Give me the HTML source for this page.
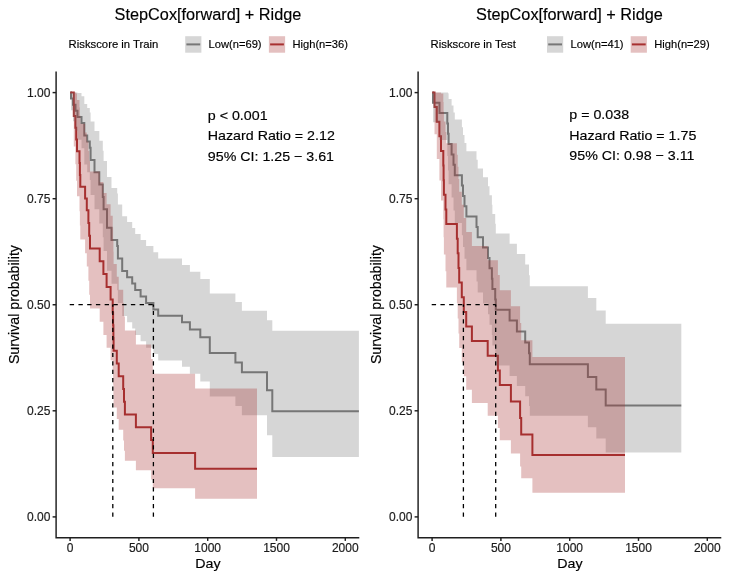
<!DOCTYPE html>
<html lang="en"><head><meta charset="utf-8"><title>StepCox[forward] + Ridge</title>
<style>html,body{margin:0;padding:0;background:#fff}svg{display:block}text{stroke:#000;stroke-width:.16px;paint-order:stroke fill}</style></head>
<body>
<svg width="740" height="581" viewBox="0 0 740 581" font-family='"Liberation Sans", Arial, sans-serif' fill="#000" stroke="none">
<rect width="740" height="581" fill="#fff"/>
<g transform="translate(0,0)">
<polyline points="70.3,92.4 71.0,92.4 71.0,98.5 73.0,98.5 73.0,104.7 75.5,104.7 75.5,110.8 77.5,110.8 77.5,117.0 81.5,117.0 81.5,123.1 84.3,123.1 84.3,135.4 87.2,135.4 87.2,141.6 89.8,141.6 89.8,147.7 90.6,147.7 90.6,160.0 94.5,160.0 94.5,172.3 99.3,172.3 99.3,184.6 102.8,184.6 102.8,196.9 103.6,196.9 103.6,209.2 107.0,209.2 107.0,227.7 111.5,227.7 111.5,240.0 117.2,240.0 117.2,246.1 117.9,246.1 117.9,258.4 122.2,258.4 122.2,271.0 127.1,271.0 127.1,277.3 132.2,277.3 132.2,283.6 135.2,283.6 135.2,289.9 140.6,289.9 140.6,296.4 146.1,296.4 146.1,302.9 153.4,302.9 153.4,309.4 158.2,309.4 158.2,315.8 182.0,315.8 182.0,322.3 189.9,322.3 189.9,329.5 200.3,329.5 200.3,337.3 209.8,337.3 209.8,352.9 235.4,352.9 235.4,362.6 241.9,362.6 241.9,372.2 267.0,372.2 267.0,390.3 272.3,390.3 272.3,411.3 358.9,411.3" fill="none" stroke="#767676" stroke-width="2" stroke-linejoin="miter"/>
<polyline points="70.3,92.4 73.8,92.4 73.8,116.0 75.4,116.0 75.4,127.8 76.2,127.8 76.2,139.5 77.0,139.5 77.0,151.3 79.5,151.3 79.5,163.1 79.9,163.1 79.9,174.9 80.3,174.9 80.3,186.7 85.1,186.7 85.1,198.5 86.8,198.5 86.8,210.3 88.4,210.3 88.4,223.0 89.2,223.0 89.2,235.8 90.0,235.8 90.0,248.6 99.7,248.6 99.7,261.3 103.4,261.3 103.4,274.1 106.6,274.1 106.6,286.9 110.6,286.9 110.6,299.6 112.7,299.6 112.7,312.4 113.1,312.4 113.1,325.2 113.4,325.2 113.4,337.9 113.6,337.9 113.6,350.7 116.8,350.7 116.8,363.5 118.7,363.5 118.7,376.2 123.2,376.2 123.2,389.0 124.0,389.0 124.0,401.8 124.9,401.8 124.9,414.6 135.9,414.6 135.9,427.3 151.1,427.3 151.1,440.1 152.8,440.1 152.8,452.9 195.1,452.9 195.1,468.8 257.0,468.8" fill="none" stroke="#A73030" stroke-width="2" stroke-linejoin="miter"/>
<polygon points="70.3,92.4 71.0,92.4 71.0,92.4 73.0,92.4 73.0,92.4 75.5,92.4 75.5,92.4 77.5,92.4 77.5,92.9 81.5,92.9 81.5,96.3 84.3,96.3 84.3,104.0 87.2,104.0 87.2,108.1 89.8,108.1 89.8,112.4 90.6,112.4 90.6,121.4 94.5,121.4 94.5,130.9 99.3,130.9 99.3,140.7 102.8,140.7 102.8,150.8 103.6,150.8 103.6,161.1 107.0,161.1 107.0,177.1 111.5,177.1 111.5,187.9 117.2,187.9 117.2,193.5 117.9,193.5 117.9,204.6 122.2,204.6 122.2,216.2 127.1,216.2 127.1,222.0 132.2,222.0 132.2,227.9 135.2,227.9 135.2,233.9 140.6,233.9 140.6,240.0 146.1,240.0 146.1,246.1 153.4,246.1 153.4,252.3 158.2,252.3 158.2,258.6 182.0,258.6 182.0,264.9 189.9,264.9 189.9,271.7 200.3,271.7 200.3,278.9 209.8,278.9 209.8,293.6 235.4,293.6 235.4,302.1 241.9,302.1 241.9,310.7 267.0,310.7 267.0,320.2 272.3,320.2 272.3,330.8 358.9,330.8 358.9,457.0 272.3,457.0 272.3,435.3 267.0,435.3 267.0,415.3 241.9,415.3 241.9,406.0 235.4,406.0 235.4,396.4 209.8,396.4 209.8,381.4 200.3,381.4 200.3,373.7 189.9,373.7 189.9,366.7 182.0,366.7 182.0,360.4 158.2,360.4 158.2,354.1 153.4,354.1 153.4,347.7 146.1,347.7 146.1,341.3 140.6,341.3 140.6,334.9 135.2,334.9 135.2,328.6 132.2,328.6 132.2,322.2 127.1,322.2 127.1,315.9 122.2,315.9 122.2,302.9 117.9,302.9 117.9,290.2 117.2,290.2 117.2,283.8 111.5,283.8 111.5,270.8 107.0,270.8 107.0,250.9 103.6,250.9 103.6,237.3 102.8,237.3 102.8,223.5 99.3,223.5 99.3,209.3 94.5,209.3 94.5,194.9 90.6,194.9 90.6,180.0 89.8,180.0 89.8,172.3 87.2,172.3 87.2,164.5 84.3,164.5 84.3,148.3 81.5,148.3 81.5,139.7 77.5,139.7 77.5,130.8 75.5,130.8 75.5,121.2 73.0,121.2 73.0,110.3 71.0,110.3 71.0,92.4 70.3,92.4" fill="#767676" fill-opacity="0.3"/>
<polygon points="70.3,92.4 73.8,92.4 73.8,92.4 75.4,92.4 75.4,92.4 76.2,92.4 76.2,93.4 77.0,93.4 77.0,100.1 79.5,100.1 79.5,107.5 79.9,107.5 79.9,115.4 80.3,115.4 80.3,123.7 85.1,123.7 85.1,132.4 86.8,132.4 86.8,141.4 88.4,141.4 88.4,151.1 89.2,151.1 89.2,161.1 90.0,161.1 90.0,171.4 99.7,171.4 99.7,182.1 103.4,182.1 103.4,193.0 106.6,193.0 106.6,204.2 110.6,204.2 110.6,215.7 112.7,215.7 112.7,227.4 113.1,227.4 113.1,239.4 113.4,239.4 113.4,251.6 113.6,251.6 113.6,264.0 116.8,264.0 116.8,276.8 118.7,276.8 118.7,289.8 123.2,289.8 123.2,303.0 124.0,303.0 124.0,316.6 124.9,316.6 124.9,330.4 135.9,330.4 135.9,344.5 151.1,344.5 151.1,359.0 152.8,359.0 152.8,373.8 195.1,373.8 195.1,388.5 257.0,388.5 257.0,498.8 195.1,498.8 195.1,488.2 152.8,488.2 152.8,479.5 151.1,479.5 151.1,470.3 135.9,470.3 135.9,460.7 124.9,460.7 124.9,450.7 124.0,450.7 124.0,440.4 123.2,440.4 123.2,429.8 118.7,429.8 118.7,418.9 116.8,418.9 116.8,407.6 113.6,407.6 113.6,396.2 113.4,396.2 113.4,384.4 113.1,384.4 113.1,372.4 112.7,372.4 112.7,360.2 110.6,360.2 110.6,347.7 106.6,347.7 106.6,334.9 103.4,334.9 103.4,321.8 99.7,321.8 99.7,308.5 90.0,308.5 90.0,294.8 89.2,294.8 89.2,280.8 88.4,280.8 88.4,266.5 86.8,266.5 86.8,253.2 85.1,253.2 85.1,239.6 80.3,239.6 80.3,225.6 79.9,225.6 79.9,211.2 79.5,211.2 79.5,196.3 77.0,196.3 77.0,180.7 76.2,180.7 76.2,164.2 75.4,164.2 75.4,146.5 73.8,146.5 73.8,92.4 70.3,92.4" fill="#A73030" fill-opacity="0.3"/>
<path d="M69.7,304.6H153.4" fill="none" stroke="#000" stroke-width="1.3" stroke-dasharray="4.37,4.37"/>
<path d="M153.4,516.7V304.6M112.8,516.7V304.6" fill="none" stroke="#000" stroke-width="1.3" stroke-dasharray="4.2,4.2"/>
<path d="M56.1,71.6V537.8H359.3" fill="none" stroke="#1f1f1f" stroke-width="1.45"/>
<path d="M52.6,92.60H56.1" stroke="#1f1f1f" stroke-width="1.45"/>
<text x="50.4" y="96.7" text-anchor="end" font-size="12" fill="#1a1a1a">1.00</text>
<path d="M52.6,198.70H56.1" stroke="#1f1f1f" stroke-width="1.45"/>
<text x="50.4" y="202.8" text-anchor="end" font-size="12" fill="#1a1a1a">0.75</text>
<path d="M52.6,304.75H56.1" stroke="#1f1f1f" stroke-width="1.45"/>
<text x="50.4" y="308.9" text-anchor="end" font-size="12" fill="#1a1a1a">0.50</text>
<path d="M52.6,410.80H56.1" stroke="#1f1f1f" stroke-width="1.45"/>
<text x="50.4" y="414.9" text-anchor="end" font-size="12" fill="#1a1a1a">0.25</text>
<path d="M52.6,516.90H56.1" stroke="#1f1f1f" stroke-width="1.45"/>
<text x="50.4" y="521.0" text-anchor="end" font-size="12" fill="#1a1a1a">0.00</text>
<path d="M70.1,537.8V540.9" stroke="#1f1f1f" stroke-width="1.45"/>
<text x="70.1" y="552.0" text-anchor="middle" font-size="12" fill="#1a1a1a">0</text>
<path d="M138.9,537.8V540.9" stroke="#1f1f1f" stroke-width="1.45"/>
<text x="138.9" y="552.0" text-anchor="middle" font-size="12" fill="#1a1a1a">500</text>
<path d="M207.7,537.8V540.9" stroke="#1f1f1f" stroke-width="1.45"/>
<text x="207.7" y="552.0" text-anchor="middle" font-size="12" fill="#1a1a1a">1000</text>
<path d="M276.5,537.8V540.9" stroke="#1f1f1f" stroke-width="1.45"/>
<text x="276.5" y="552.0" text-anchor="middle" font-size="12" fill="#1a1a1a">1500</text>
<path d="M345.3,537.8V540.9" stroke="#1f1f1f" stroke-width="1.45"/>
<text x="345.3" y="552.0" text-anchor="middle" font-size="12" fill="#1a1a1a">2000</text>
<text transform="translate(207.9,568.3) scale(1.07,1)" text-anchor="middle" font-size="13.3">Day</text>
<text transform="translate(19.3,304.6) rotate(-90) scale(1,1.04)" text-anchor="middle" font-size="14.2">Survival probability</text>
<text transform="translate(208.0,20.4) scale(0.964,1)" text-anchor="middle" font-size="16.9">StepCox[forward] + Ridge</text>
<text x="68.6" y="48.2" font-size="11.3">Riskscore in Train</text>
<rect x="185.2" y="36.2" width="16.2" height="16.5" fill="#767676" fill-opacity="0.3"/>
<path d="M186.39999999999998,44.4H200.2" stroke="#767676" stroke-width="2"/>
<text x="208.6" y="48.2" font-size="11.15">Low(n=69)</text>
<rect x="268.9" y="36.2" width="16.2" height="16.5" fill="#A73030" fill-opacity="0.3"/>
<path d="M270.09999999999997,44.4H283.9" stroke="#A73030" stroke-width="2"/>
<text x="292.5" y="48.2" font-size="11.15">High(n=36)</text>
<text transform="translate(207.8,119.5) scale(1.08,1)" font-size="13.2">p &lt; 0.001</text>
<text transform="translate(207.8,140.0) scale(1.08,1)" font-size="13.2">Hazard Ratio = 2.12</text>
<text transform="translate(207.8,160.5) scale(1.08,1)" font-size="13.2">95% CI: 1.25 − 3.61</text>
</g>
<g transform="translate(362,0)">
<polyline points="70.3,92.4 71.0,92.4 71.0,102.7 77.5,102.7 77.5,113.1 85.3,113.1 85.3,123.4 86.0,123.4 86.0,133.8 86.6,133.8 86.6,144.1 89.6,144.1 89.6,154.5 91.5,154.5 91.5,164.8 92.8,164.8 92.8,175.2 99.9,175.2 99.9,185.5 101.0,185.5 101.0,195.9 102.5,195.9 102.5,206.2 104.4,206.2 104.4,216.6 114.5,216.6 114.5,226.9 115.7,226.9 115.7,237.3 121.0,237.3 121.0,247.6 126.0,247.6 126.0,258.0 127.5,258.0 127.5,268.3 129.9,268.3 129.9,278.7 130.4,278.7 130.4,289.0 133.2,289.0 133.2,299.4 133.8,299.4 133.8,309.7 147.6,309.7 147.6,320.6 154.9,320.6 154.9,331.5 163.2,331.5 163.2,342.4 167.0,342.4 167.0,353.3 167.8,353.3 167.8,364.2 225.9,364.2 225.9,376.9 234.3,376.9 234.3,389.6 243.7,389.6 243.7,405.5 319.3,405.5" fill="none" stroke="#767676" stroke-width="2" stroke-linejoin="miter"/>
<polyline points="70.3,92.4 72.5,92.4 72.5,107.0 74.8,107.0 74.8,121.7 77.4,121.7 77.4,136.3 79.0,136.3 79.0,150.9 81.3,150.9 81.3,165.6 81.6,165.6 81.6,180.2 81.9,180.2 81.9,194.8 83.5,194.8 83.5,209.4 84.3,209.4 84.3,224.1 94.9,224.1 94.9,238.7 95.7,238.7 95.7,253.3 96.5,253.3 96.5,268.0 97.2,268.0 97.2,282.6 99.8,282.6 99.8,297.2 101.8,297.2 101.8,311.9 104.2,311.9 104.2,326.5 109.9,326.5 109.9,341.1 125.7,341.1 125.7,355.8 135.9,355.8 135.9,370.4 137.8,370.4 137.8,385.0 148.9,385.0 148.9,401.5 158.1,401.5 158.1,417.9 159.2,417.9 159.2,434.4 170.4,434.4 170.4,455.0 263.0,455.0" fill="none" stroke="#A73030" stroke-width="2" stroke-linejoin="miter"/>
<polygon points="70.3,92.4 71.0,92.4 71.0,92.4 77.5,92.4 77.5,92.4 85.3,92.4 85.3,92.4 86.0,92.4 86.0,93.3 86.6,93.3 86.6,99.1 89.6,99.1 89.6,105.6 91.5,105.6 91.5,112.4 92.8,112.4 92.8,119.6 99.9,119.6 99.9,127.2 101.0,127.2 101.0,135.0 102.5,135.0 102.5,143.0 104.4,143.0 104.4,151.3 114.5,151.3 114.5,159.7 115.7,159.7 115.7,168.4 121.0,168.4 121.0,177.2 126.0,177.2 126.0,186.2 127.5,186.2 127.5,195.3 129.9,195.3 129.9,204.7 130.4,204.7 130.4,214.1 133.2,214.1 133.2,223.7 133.8,223.7 133.8,233.5 147.6,233.5 147.6,243.7 154.9,243.7 154.9,254.0 163.2,254.0 163.2,264.6 167.0,264.6 167.0,275.3 167.8,275.3 167.8,286.2 225.9,286.2 225.9,298.1 234.3,298.1 234.3,310.4 243.7,310.4 243.7,323.8 319.3,323.8 319.3,452.6 243.7,452.6 243.7,438.4 234.3,438.4 234.3,427.3 225.9,427.3 225.9,415.8 167.8,415.8 167.8,406.1 167.0,406.1 167.0,396.2 163.2,396.2 163.2,386.1 154.9,386.1 154.9,375.9 147.6,375.9 147.6,365.4 133.8,365.4 133.8,355.5 133.2,355.5 133.2,345.4 130.4,345.4 130.4,335.1 129.9,335.1 129.9,324.7 127.5,324.7 127.5,314.2 126.0,314.2 126.0,303.5 121.0,303.5 121.0,292.6 115.7,292.6 115.7,281.5 114.5,281.5 114.5,270.2 104.4,270.2 104.4,258.8 102.5,258.8 102.5,247.1 101.0,247.1 101.0,235.2 99.9,235.2 99.9,223.0 92.8,223.0 92.8,210.5 91.5,210.5 91.5,197.6 89.6,197.6 89.6,184.3 86.6,184.3 86.6,170.5 86.0,170.5 86.0,155.9 85.3,155.9 85.3,140.1 77.5,140.1 77.5,122.3 71.0,122.3 71.0,92.4 70.3,92.4" fill="#767676" fill-opacity="0.3"/>
<polygon points="70.3,92.4 72.5,92.4 72.5,92.4 74.8,92.4 74.8,92.4 77.4,92.4 77.4,92.4 79.0,92.4 79.0,93.6 81.3,93.6 81.3,102.1 81.6,102.1 81.6,111.4 81.9,111.4 81.9,121.5 83.5,121.5 83.5,132.1 84.3,132.1 84.3,143.2 94.9,143.2 94.9,154.7 95.7,154.7 95.7,166.7 96.5,166.7 96.5,179.0 97.2,179.0 97.2,191.7 99.8,191.7 99.8,204.8 101.8,204.8 101.8,218.1 104.2,218.1 104.2,231.9 109.9,231.9 109.9,245.9 125.7,245.9 125.7,260.3 135.9,260.3 135.9,275.1 137.8,275.1 137.8,290.2 148.9,290.2 148.9,306.2 158.1,306.2 158.1,322.9 159.2,322.9 159.2,340.2 170.4,340.2 170.4,357.1 263.0,357.1 263.0,492.8 170.4,492.8 170.4,478.3 159.2,478.3 159.2,466.4 158.1,466.4 158.1,453.6 148.9,453.6 148.9,440.2 137.8,440.2 137.8,428.1 135.9,428.1 135.9,415.7 125.7,415.7 125.7,402.9 109.9,402.9 109.9,389.7 104.2,389.7 104.2,376.2 101.8,376.2 101.8,362.3 99.8,362.3 99.8,348.1 97.2,348.1 97.2,333.5 96.5,333.5 96.5,318.6 95.7,318.6 95.7,303.2 94.9,303.2 94.9,287.5 84.3,287.5 84.3,271.3 83.5,271.3 83.5,254.6 81.9,254.6 81.9,237.3 81.6,237.3 81.6,219.3 81.3,219.3 81.3,200.5 79.0,200.5 79.0,180.5 77.4,180.5 77.4,158.9 74.8,158.9 74.8,134.3 72.5,134.3 72.5,92.4 70.3,92.4" fill="#A73030" fill-opacity="0.3"/>
<path d="M69.7,304.6H133.7" fill="none" stroke="#000" stroke-width="1.3" stroke-dasharray="4.37,4.37"/>
<path d="M133.7,516.7V304.6M101.4,516.7V304.6" fill="none" stroke="#000" stroke-width="1.3" stroke-dasharray="4.2,4.2"/>
<path d="M56.1,71.6V537.8H359.3" fill="none" stroke="#1f1f1f" stroke-width="1.45"/>
<path d="M52.6,92.60H56.1" stroke="#1f1f1f" stroke-width="1.45"/>
<text x="50.4" y="96.7" text-anchor="end" font-size="12" fill="#1a1a1a">1.00</text>
<path d="M52.6,198.70H56.1" stroke="#1f1f1f" stroke-width="1.45"/>
<text x="50.4" y="202.8" text-anchor="end" font-size="12" fill="#1a1a1a">0.75</text>
<path d="M52.6,304.75H56.1" stroke="#1f1f1f" stroke-width="1.45"/>
<text x="50.4" y="308.9" text-anchor="end" font-size="12" fill="#1a1a1a">0.50</text>
<path d="M52.6,410.80H56.1" stroke="#1f1f1f" stroke-width="1.45"/>
<text x="50.4" y="414.9" text-anchor="end" font-size="12" fill="#1a1a1a">0.25</text>
<path d="M52.6,516.90H56.1" stroke="#1f1f1f" stroke-width="1.45"/>
<text x="50.4" y="521.0" text-anchor="end" font-size="12" fill="#1a1a1a">0.00</text>
<path d="M70.1,537.8V540.9" stroke="#1f1f1f" stroke-width="1.45"/>
<text x="70.1" y="552.0" text-anchor="middle" font-size="12" fill="#1a1a1a">0</text>
<path d="M138.9,537.8V540.9" stroke="#1f1f1f" stroke-width="1.45"/>
<text x="138.9" y="552.0" text-anchor="middle" font-size="12" fill="#1a1a1a">500</text>
<path d="M207.7,537.8V540.9" stroke="#1f1f1f" stroke-width="1.45"/>
<text x="207.7" y="552.0" text-anchor="middle" font-size="12" fill="#1a1a1a">1000</text>
<path d="M276.5,537.8V540.9" stroke="#1f1f1f" stroke-width="1.45"/>
<text x="276.5" y="552.0" text-anchor="middle" font-size="12" fill="#1a1a1a">1500</text>
<path d="M345.3,537.8V540.9" stroke="#1f1f1f" stroke-width="1.45"/>
<text x="345.3" y="552.0" text-anchor="middle" font-size="12" fill="#1a1a1a">2000</text>
<text transform="translate(207.9,568.3) scale(1.07,1)" text-anchor="middle" font-size="13.3">Day</text>
<text transform="translate(19.3,304.6) rotate(-90) scale(1,1.04)" text-anchor="middle" font-size="14.2">Survival probability</text>
<text transform="translate(207.5,20.4) scale(0.964,1)" text-anchor="middle" font-size="16.9">StepCox[forward] + Ridge</text>
<text x="68.6" y="48.2" font-size="11.3">Riskscore in Test</text>
<rect x="185.0" y="36.2" width="16.2" height="16.5" fill="#767676" fill-opacity="0.3"/>
<path d="M186.2,44.4H200.0" stroke="#767676" stroke-width="2"/>
<text x="208.6" y="48.2" font-size="11.15">Low(n=41)</text>
<rect x="268.7" y="36.2" width="16.2" height="16.5" fill="#A73030" fill-opacity="0.3"/>
<path d="M269.9,44.4H283.7" stroke="#A73030" stroke-width="2"/>
<text x="292.3" y="48.2" font-size="11.15">High(n=29)</text>
<text transform="translate(207.3,119.1) scale(1.08,1)" font-size="13.2">p = 0.038</text>
<text transform="translate(207.3,139.6) scale(1.08,1)" font-size="13.2">Hazard Ratio = 1.75</text>
<text transform="translate(207.3,160.1) scale(1.08,1)" font-size="13.2">95% CI: 0.98 − 3.11</text>
</g>
</svg>
</body></html>
